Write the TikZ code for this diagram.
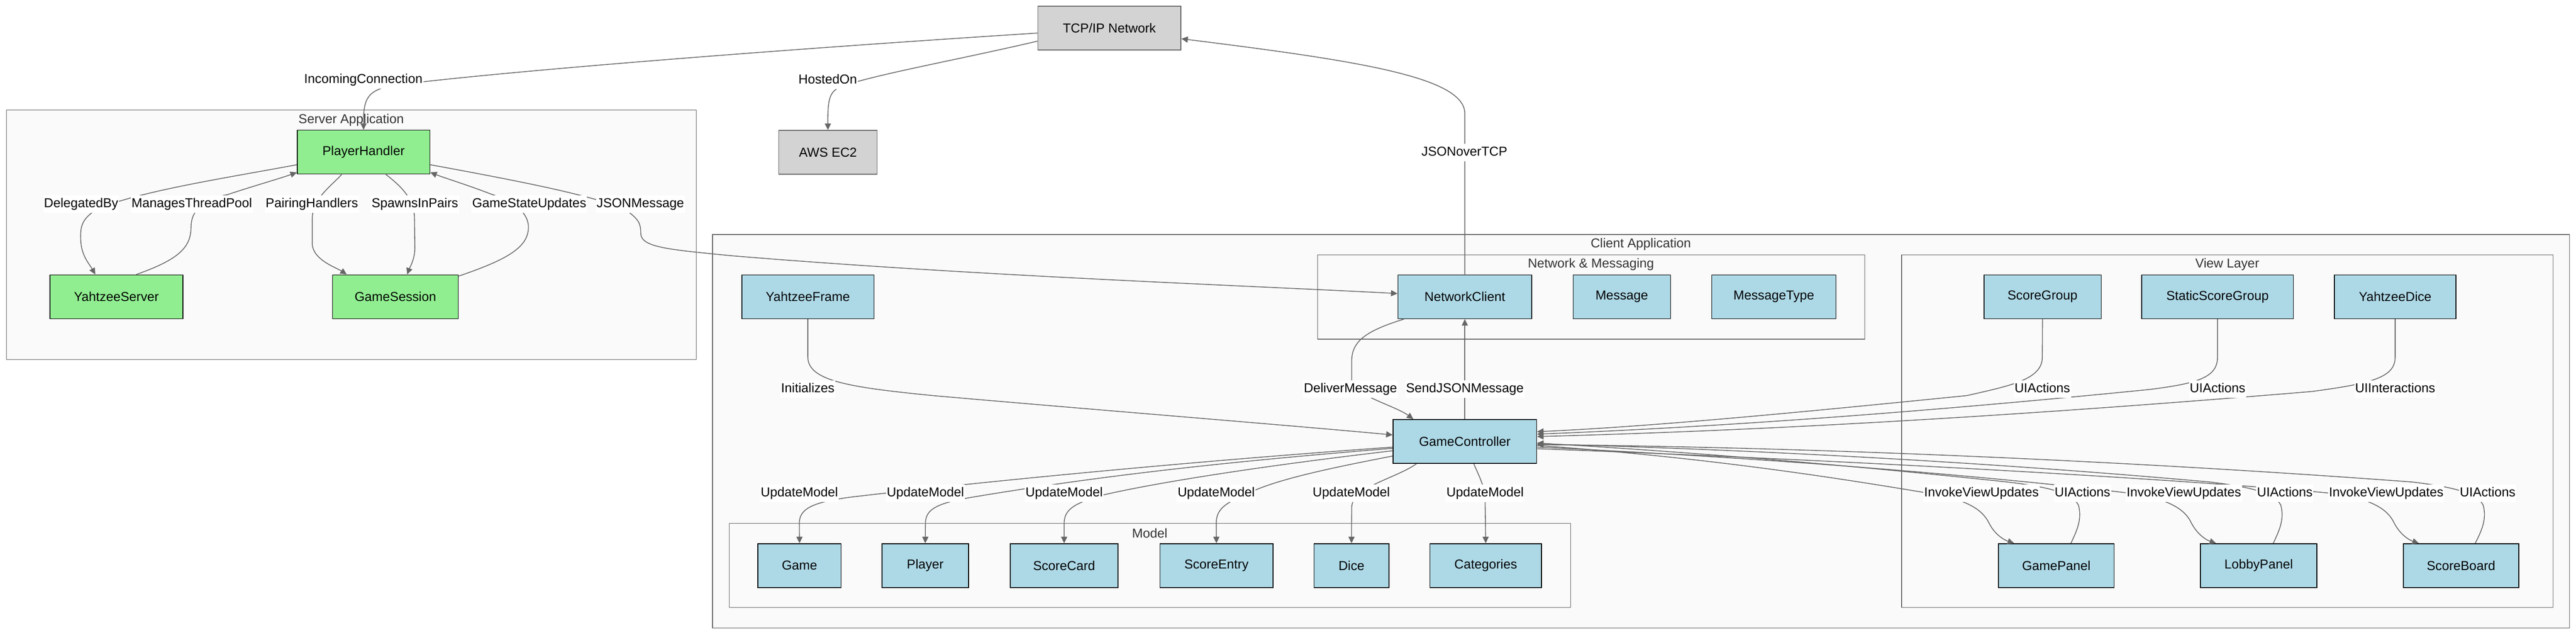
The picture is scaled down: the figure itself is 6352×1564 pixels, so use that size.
\documentclass[tikz,border=0pt]{standalone}
\usepackage{fontspec}
\setsansfont{Liberation Sans}
\usetikzlibrary{arrows.meta}
\definecolor{srvgreen}{HTML}{90EE90}
\definecolor{cliblue}{HTML}{ADD8E6}
\definecolor{netgray}{HTML}{D3D3D3}
\definecolor{edgegray}{HTML}{666666}
\definecolor{groupfill}{HTML}{FAFAFA}
\definecolor{titlegray}{HTML}{333333}

\begin{document}
\begin{tikzpicture}[x=0.5pt, y=-0.5pt, font=\sffamily\fontsize{16}{19}\selectfont,
      box/.style={draw, line width=1pt, minimum height=54pt, inner sep=0pt},
      srv/.style={box, fill=srvgreen},
      cli/.style={box, fill=cliblue},
      netbox/.style={box, draw=edgegray, fill=netgray},
      cluster/.style={draw=edgegray, fill=groupfill, line width=1pt},
      subcluster/.style={draw=edgegray, fill=groupfill, line width=0.8pt},
      grouptitle/.style={text=titlegray},
      conn/.style={draw=edgegray, line width=1pt, -{Triangle[length=8pt,width=7.5pt]}},
      lbl/.style={fill=white, inner xsep=1pt, inner ysep=3pt, text height=12pt, text depth=3.5pt}]
      \fill[white] (0,0) rectangle (6352,1564);
      \useasboundingbox (0,0) rectangle (6352,1564);

      \draw[cluster] (16,271) rectangle (1717,886);
      \draw[cluster] (1757,578) rectangle (6336,1548);
      \draw[subcluster] (3249,628) rectangle (4598,836);
      \draw[subcluster] (4689,628) rectangle (6295,1497);
      \draw[subcluster] (1798,1290) rectangle (3873,1497);
      \node[grouptitle] (serverT) at (866,296) {Server Application};
      \node[grouptitle] (clientT) at (4046,602) {Client Application};
      \node[grouptitle] (netT) at (3923,652) {Network \& Messaging};
      \node[grouptitle] (viewT) at (5492,652) {View Layer};
      \node[grouptitle] (modelT) at (2835,1314) {Model};

      \node[netbox, minimum width=176.5pt] (tcp) at (2735.5,69.5) {TCP/IP Network};
      \node[netbox, minimum width=121.5pt] (aws) at (2041.5,375.5) {AWS EC2};
      \node[srv, minimum width=163.5pt] (ph) at (896.5,375) {PlayerHandler};
      \node[srv, minimum width=164pt] (ys) at (287,731.5) {YahtzeeServer};
      \node[srv, minimum width=155pt] (gs) at (975,731.5) {GameSession};
      \node[cli, minimum width=163pt] (yf) at (1992,731.5) {YahtzeeFrame};
      \node[cli, minimum width=165pt] (nc) at (3612,731.5) {NetworkClient};
      \node[cli, minimum width=120pt] (msg) at (3999,731.5) {Message};
      \node[cli, minimum width=153pt] (msgtype) at (4374,731.5) {MessageType};
      \node[cli, minimum width=144.5pt] (sg) at (5036.5,731.5) {ScoreGroup};
      \node[cli, minimum width=187pt] (ssg) at (5468,731.5) {StaticScoreGroup};
      \node[cli, minimum width=150pt] (yd) at (5906,731.5) {YahtzeeDice};
      \node[cli, minimum width=177pt] (gc) at (3612,1088) {GameController};
      \node[cli, minimum width=102.5pt] (game) at (1971.5,1394) {Game};
      \node[cli, minimum width=106.5pt] (player) at (2281.5,1394) {Player};
      \node[cli, minimum width=133pt] (scard) at (2624,1394) {ScoreCard};
      \node[cli, minimum width=139.5pt] (sentry) at (2999.5,1394) {ScoreEntry};
      \node[cli, minimum width=92.5pt] (dice) at (3332.5,1394) {Dice};
      \node[cli, minimum width=137.5pt] (cat) at (3663.5,1394) {Categories};
      \node[cli, minimum width=142.5pt] (gp) at (5070.5,1394) {GamePanel};
      \node[cli, minimum width=143.5pt] (lp) at (5569.5,1394) {LobbyPanel};
      \node[cli, minimum width=142.5pt] (sb) at (6068.5,1394) {ScoreBoard};

      \draw[conn] ([yshift=-6pt]tcp.west) .. controls (1800,130) and (1150,185) .. (960,212) .. controls (905,225) and (896,245) .. (ph.north);
      \draw[conn] ([yshift=-16pt]tcp.west) .. controls (2350,150) and (2150,185) .. (2070,215) .. controls (2045,228) and (2041,245) .. (aws.north);
      \draw[conn] (nc.north) -- (3612,280) .. controls (3612,190) and (3350,150) .. ([yshift=-13pt]tcp.east);

      \draw[conn] ([yshift=-15.5pt]ph.west) .. controls (550,440) and (350,470) .. (240,515) .. controls (200,540) and (198,560) .. (199,590) .. controls (200,630) and (220,650) .. ([xshift=-26pt]ys.north);
      \draw[conn] ([xshift=24.5pt]ys.north) .. controls (440,640) and (471,610) .. (471,560) .. controls (471,520) and (500,490) .. (560,480) .. controls (620,460) and (690,440) .. ([yshift=-25pt]ph.west);
      \draw[conn] ([xshift=-27pt]ph.south) .. controls (815,460) and (770,490) .. (770,540) -- (770,600) .. controls (770,640) and (830,660) .. ([xshift=-60pt]gs.north);
      \draw[conn] ([xshift=27.5pt]ph.south) .. controls (990,460) and (1022,490) .. (1022,540) -- (1023,610) .. controls (1023,640) and (1010,660) .. ([xshift=14.5pt]gs.north);
      \draw[conn] ([yshift=-2pt]gs.north east) .. controls (1250,640) and (1303,610) .. (1303,560) .. controls (1303,520) and (1260,495) .. (1210,478) .. controls (1150,455) and (1100,440) .. ([yshift=-25pt]ph.east);
      \draw[conn] ([yshift=-15.5pt]ph.east) .. controls (1300,450) and (1450,480) .. (1540,515) .. controls (1575,540) and (1580,550) .. (1580,575) .. controls (1580,610) and (1650,615) .. (1800,630) .. controls (2400,680) and (3100,705) .. ([yshift=4pt]nc.west);

      \draw[conn] (yf.south) -- (1992,880) .. controls (1992,940) and (2100,955) .. (2300,975) .. controls (2700,1010) and (3200,1050) .. ([yshift=8pt]gc.west);
      \draw[conn] ([xshift=8pt]nc.south west) .. controls (3370,815) and (3333,840) .. (3333,890) -- (3333,940) .. controls (3340,975) and (3440,1000) .. ([xshift=-63.5pt]gc.north);
      \draw[conn] (gc.north) -- (nc.south);

      \draw[conn] ([yshift=-7pt]gc.west) .. controls (2900,1140) and (2400,1190) .. (2100,1225) .. controls (2000,1238) and (1971,1255) .. (1971,1290) -- (game.north);
      \draw[conn] ([yshift=-8.5pt]gc.west) .. controls (3000,1140) and (2700,1175) .. (2400,1225) .. controls (2310,1240) and (2282,1255) .. (2282,1290) -- (player.north);
      \draw[conn] ([yshift=-11.5pt]gc.west) .. controls (3100,1150) and (2850,1190) .. (2720,1220) .. controls (2650,1240) and (2624,1255) .. (2624,1290) -- (scard.north);
      \draw[conn] ([yshift=-18pt]gc.west) .. controls (3300,1150) and (3150,1180) .. (3080,1215) .. controls (3020,1240) and (2999,1255) .. (2999,1290) -- (sentry.north);
      \draw[conn] ([xshift=-59.5pt]gc.south) .. controls (3440,1180) and (3335,1200) .. (3333,1250) -- (dice.north);
      \draw[conn] ([xshift=11pt]gc.south) .. controls (3650,1180) and (3662,1200) .. (3662,1240) -- (cat.north);

      \draw[conn] (sg.south) -- (5036,880) .. controls (5036,935) and (4960,950) .. (4850,975) .. controls (4500,1010) and (4100,1050) .. ([yshift=12pt]gc.east);
      \draw[conn] (ssg.south) -- (5468,880) .. controls (5468,930) and (5420,945) .. (5300,960) .. controls (4600,1030) and (4100,1058) .. ([yshift=9pt]gc.east);
      \draw[conn] (yd.south) -- (5906,880) .. controls (5906,930) and (5850,945) .. (5700,965) .. controls (4800,1040) and (4200,1065) .. ([yshift=6pt]gc.east);

      \draw[conn] ([yshift=-5pt]gc.east) .. controls (4250,1130) and (4600,1190) .. (4770,1218) .. controls (4860,1235) and (4890,1260) .. (4905,1290) .. controls (4920,1320) and (4945,1332) .. ([xshift=-52pt]gp.north);
      \draw[conn] ([yshift=-7pt]gc.east) .. controls (4500,1135) and (5050,1190) .. (5270,1218) .. controls (5360,1235) and (5390,1260) .. (5404,1290) .. controls (5420,1320) and (5443,1332) .. ([xshift=-52.5pt]lp.north);
      \draw[conn] ([yshift=-9pt]gc.east) .. controls (4700,1140) and (5500,1190) .. (5770,1218) .. controls (5860,1235) and (5890,1260) .. (5904,1290) .. controls (5920,1320) and (5943,1332) .. ([xshift=-52pt]sb.north);
      \draw[conn] ([xshift=18pt]gp.north) .. controls (5120,1310) and (5135,1280) .. (5125,1245) .. controls (5110,1215) and (5050,1200) .. (4950,1188) .. controls (4500,1140) and (4100,1110) .. ([yshift=-2pt]gc.east);
      \draw[conn] ([xshift=18pt]lp.north) .. controls (5619,1310) and (5634,1280) .. (5624,1245) .. controls (5609,1215) and (5549,1200) .. (5449,1188) .. controls (4800,1130) and (4200,1105) .. ([yshift=-3pt]gc.east);
      \draw[conn] ([xshift=17.5pt]sb.north) .. controls (6118,1310) and (6133,1280) .. (6123,1245) .. controls (6108,1215) and (6048,1200) .. (5948,1188) .. controls (5100,1125) and (4300,1100) .. ([yshift=-4pt]gc.east);

      \node[lbl] (incoming) at (896,197) {IncomingConnection};
      \node[lbl] (hosted) at (2041,198) {HostedOn};
      \node[lbl] (jsontcp) at (3611,376) {JSONoverTCP};
      \node[lbl] (delegated) at (200,503) {DelegatedBy};
      \node[lbl] (threadpool) at (473,503) {ManagesThreadPool};
      \node[lbl] (pairing) at (769,503) {PairingHandlers};
      \node[lbl] (spawns) at (1023,503) {SpawnsInPairs};
      \node[lbl] (stateupd) at (1305,503) {GameStateUpdates};
      \node[lbl] (jsonmsg) at (1579,503) {JSONMessage};
      \node[lbl] (init) at (1992,959) {Initializes};
      \node[lbl] (deliver) at (3330,959) {DeliverMessage};
      \node[lbl] (sendjson) at (3612,959) {SendJSONMessage};
      \node[lbl] (uiSg) at (5036,959) {UIActions};
      \node[lbl] (uiSsg) at (5468,959) {UIActions};
      \node[lbl] (uiYd) at (5906,959) {UIInteractions};
      \node[lbl] (updGame) at (1971,1216) {UpdateModel};
      \node[lbl] (updPlayer) at (2282,1216) {UpdateModel};
      \node[lbl] (updCard) at (2624,1216) {UpdateModel};
      \node[lbl] (updEntry) at (2999,1216) {UpdateModel};
      \node[lbl] (updDice) at (3332,1216) {UpdateModel};
      \node[lbl] (updCat) at (3662,1216) {UpdateModel};
      \node[lbl] (invGp) at (4886,1216) {InvokeViewUpdates};
      \node[lbl] (uiGp) at (5135,1216) {UIActions};
      \node[lbl] (invLp) at (5385,1216) {InvokeViewUpdates};
      \node[lbl] (uiLp) at (5634,1216) {UIActions};
      \node[lbl] (invSb) at (5884,1216) {InvokeViewUpdates};
      \node[lbl] (uiSb) at (6134,1216) {UIActions};
\end{tikzpicture}
\end{document}
